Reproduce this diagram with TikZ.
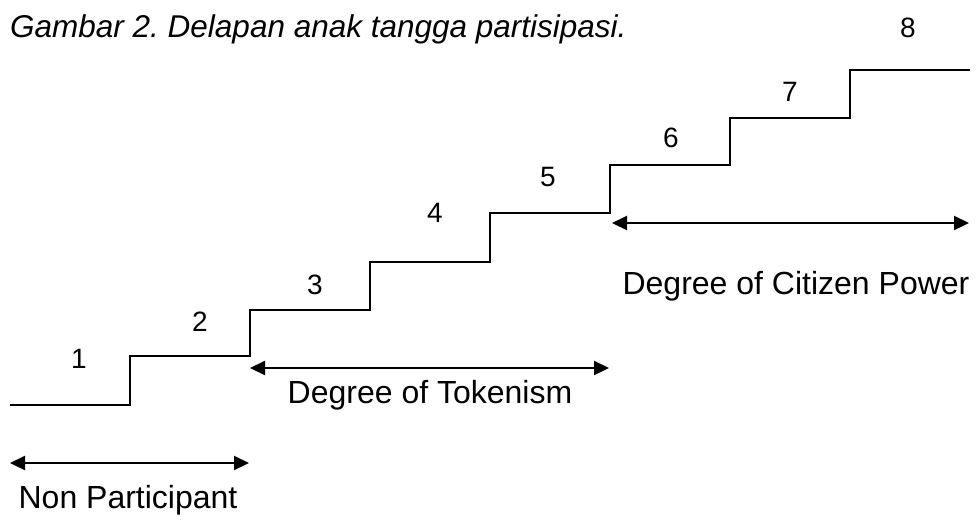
\documentclass[tikz,border=0pt]{standalone}
\usepackage{fontspec}
\setmainfont{Liberation Sans}
\usetikzlibrary{arrows.meta}
\frenchspacing
\begin{document}
\begin{tikzpicture}[x=1pt,y=-1pt,
  stair/.style={line width=2.2pt},
  span/.style={line width=2.2pt,{Triangle[length=15pt,width=14pt]}-{Triangle[length=15pt,width=14pt]}},
  lbl/.style={font=\fontsize{32}{38}\selectfont,inner sep=0pt},
  num/.style={font=\fontsize{28}{34}\selectfont,inner sep=0pt},
  ttl/.style={font=\fontsize{31.5}{38}\selectfont\itshape,inner sep=0pt,anchor=base west}]
\useasboundingbox (0,0) rectangle (979,520);
% staircase
\draw[stair] (10,405) -- (130,405) -- (130,356) -- (250,356) -- (250,310)
  -- (370,310) -- (370,262) -- (490,262) -- (490,213) -- (610,213)
  -- (610,165) -- (730,165) -- (730,118) -- (850,118) -- (850,70) -- (970,70);
% step numbers
\node[num] (n1) at (79,359) {1};
\node[num] (n2) at (200,322) {2};
\node[num] (n3) at (315,285) {3};
\node[num] (n4) at (435,213) {4};
\node[num] (n5) at (548,177) {5};
\node[num] (n6) at (671,138) {6};
\node[num] (n7) at (790,92) {7};
\node[num] (n8) at (908,28) {8};
% spans
\coordinate (a1) at (10,463); \coordinate (a2) at (249,463);
\coordinate (b1) at (250,368); \coordinate (b2) at (609,368);
\coordinate (c1) at (612,223); \coordinate (c2) at (969,223);
\draw[span] (a1) -- (a2);
\draw[span] (b1) -- (b2);
\draw[span] (c1) -- (c2);
\node[lbl] (np) at (128,500) {Non Participant};
\node[lbl] (tk) at (430,395) {Degree of Tokenism};
\node[lbl] (cp) at (796,286) {Degree of Citizen Power};
% caption
\node[ttl] (title) at (10,37) {Gambar 2. Delapan anak tangga partisipasi.};
\end{tikzpicture}
\end{document}
